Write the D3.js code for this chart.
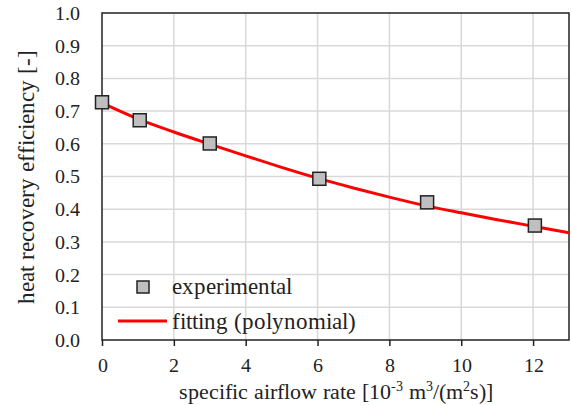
<!DOCTYPE html>
<html>
<head>
    <meta charset="UTF-8">
    <script src="https://d3js.org/d3.v7.min.js"></script>
    <style>
        @font-face { font-family: "RefSerif"; src: local("Liberation Serif"), local("LiberationSerif"), local("Liberation Serif Regular"), local("LiberationSerif-Regular"); }
        svg text, svg tspan { font-family: "RefSerif", "Liberation Serif", serif !important; }
    </style>
</head>
<body style="margin:0">
    <svg width="571" height="405"></svg>

    <script>
        // measured points
        const expX = [0, 1.05, 3.0, 6.05, 9.05, 12.05];
        const expY = [0.727, 0.672, 0.601, 0.493, 0.421, 0.350];

        // fitted curve
        const fitX = [0, 1, 2, 3, 4, 5, 6, 7, 8, 9, 10, 11, 12, 13];
        const fitY = [0.725, 0.676, 0.636, 0.599, 0.563, 0.528, 0.495, 0.465, 0.437, 0.411, 0.389, 0.368, 0.348, 0.328];

        const xTicks = [0, 2, 4, 6, 8, 10, 12];
        const yTicks = [0, 0.1, 0.2, 0.3, 0.4, 0.5, 0.6, 0.7, 0.8, 0.9, 1.0];

        const svg = d3.select("svg");
        const pL = 102, pR = 569, pT = 13, pB = 340;

        const x = d3.scaleLinear().domain([0, 13]).range([pL, pR]);
        const y = d3.scaleLinear().domain([0, 1]).range([pB, pT]);

        // grid
        svg.append("g").selectAll("line").data(xTicks.slice(1))
            .enter().append("line")
            .attr("x1", d => x(d)).attr("x2", d => x(d))
            .attr("y1", pT).attr("y2", pB)
            .attr("stroke", "#d9d9d9").attr("stroke-width", 1.5);
        svg.append("g").selectAll("line").data(yTicks.slice(1, -1))
            .enter().append("line")
            .attr("x1", pL).attr("x2", pR)
            .attr("y1", d => y(d)).attr("y2", d => y(d))
            .attr("stroke", "#d9d9d9").attr("stroke-width", 1.5);

        // x axis
        const xAxis = svg.append("g")
            .attr("transform", `translate(0,${pB})`)
            .call(d3.axisBottom(x).tickValues(xTicks).tickSize(6).tickPadding(12).tickFormat(d3.format("d")));
        xAxis.select(".domain").remove();
        xAxis.attr("font-family", null).attr("font-size", null);
        xAxis.selectAll("line").attr("stroke", "#222").attr("stroke-width", 1.5);

        // y axis
        const yAxis = svg.append("g")
            .attr("transform", `translate(${pL},0)`)
            .call(d3.axisLeft(y).tickValues(yTicks).tickSize(0).tickPadding(22).tickFormat(d3.format(".1f")));
        yAxis.select(".domain").remove();
        yAxis.attr("font-family", null).attr("font-size", null);

        // frame
        svg.append("rect")
            .attr("x", pL).attr("y", pT)
            .attr("width", pR - pL).attr("height", pB - pT)
            .attr("fill", "none").attr("stroke", "#222").attr("stroke-width", 1.5);

        // fitting curve
        const line = d3.line()
            .x((d, i) => x(fitX[i]))
            .y(d => y(d))
            .curve(d3.curveMonotoneX);
        svg.append("path")
            .datum(fitY)
            .attr("d", line)
            .attr("fill", "none")
            .attr("stroke", "#ff0000")
            .attr("stroke-width", 3);

        // markers
        const ms = 13;
        svg.append("g").selectAll("rect").data(expX)
            .enter().append("rect")
            .attr("x", d => x(d) - ms / 2)
            .attr("y", (d, i) => y(expY[i]) - ms / 2)
            .attr("width", ms).attr("height", ms)
            .attr("fill", "#bfbfbf").attr("stroke", "#222").attr("stroke-width", 1.5);

        // tick labels
        svg.selectAll("text")
            .attr("fill", "#222")
            .style("font-size", "20px");

        // legend
        const lg = svg.append("g");
        lg.append("rect")
            .attr("x", 137).attr("y", 281).attr("width", 12).attr("height", 12)
            .attr("fill", "#bfbfbf").attr("stroke", "#222").attr("stroke-width", 1.5);
        lg.append("line")
            .attr("x1", 118).attr("x2", 167).attr("y1", 321).attr("y2", 321)
            .attr("stroke", "#ff0000").attr("stroke-width", 3);
        lg.append("text").attr("x", 172).attr("y", 294).text("experimental");
        lg.append("text").attr("x", 172).attr("y", 329).text("fitting (polynomial)");
        lg.selectAll("text")
            .attr("fill", "#222")
            .style("font-size", "23px");

        // axis titles
        svg.append("text")
            .attr("transform", "translate(34,177) rotate(-90)")
            .attr("text-anchor", "middle")
            .attr("fill", "#222")
            .style("font-size", "23px")
            .text("heat recovery efficiency [-]");

        const xt = svg.append("text")
            .attr("x", 336).attr("y", 399)
            .attr("text-anchor", "middle")
            .attr("fill", "#222")
            .style("font-size", "22px");
        xt.append("tspan").text("specific airflow rate [10");
        xt.append("tspan").attr("dy", -8).style("font-size", "14px").text("-3");
        xt.append("tspan").attr("dy", 8).text(" m");
        xt.append("tspan").attr("dy", -8).style("font-size", "14px").text("3");
        xt.append("tspan").attr("dy", 8).text("/(m");
        xt.append("tspan").attr("dy", -8).style("font-size", "14px").text("2");
        xt.append("tspan").attr("dy", 8).text("s)]");
    </script>
</body>
</html>
